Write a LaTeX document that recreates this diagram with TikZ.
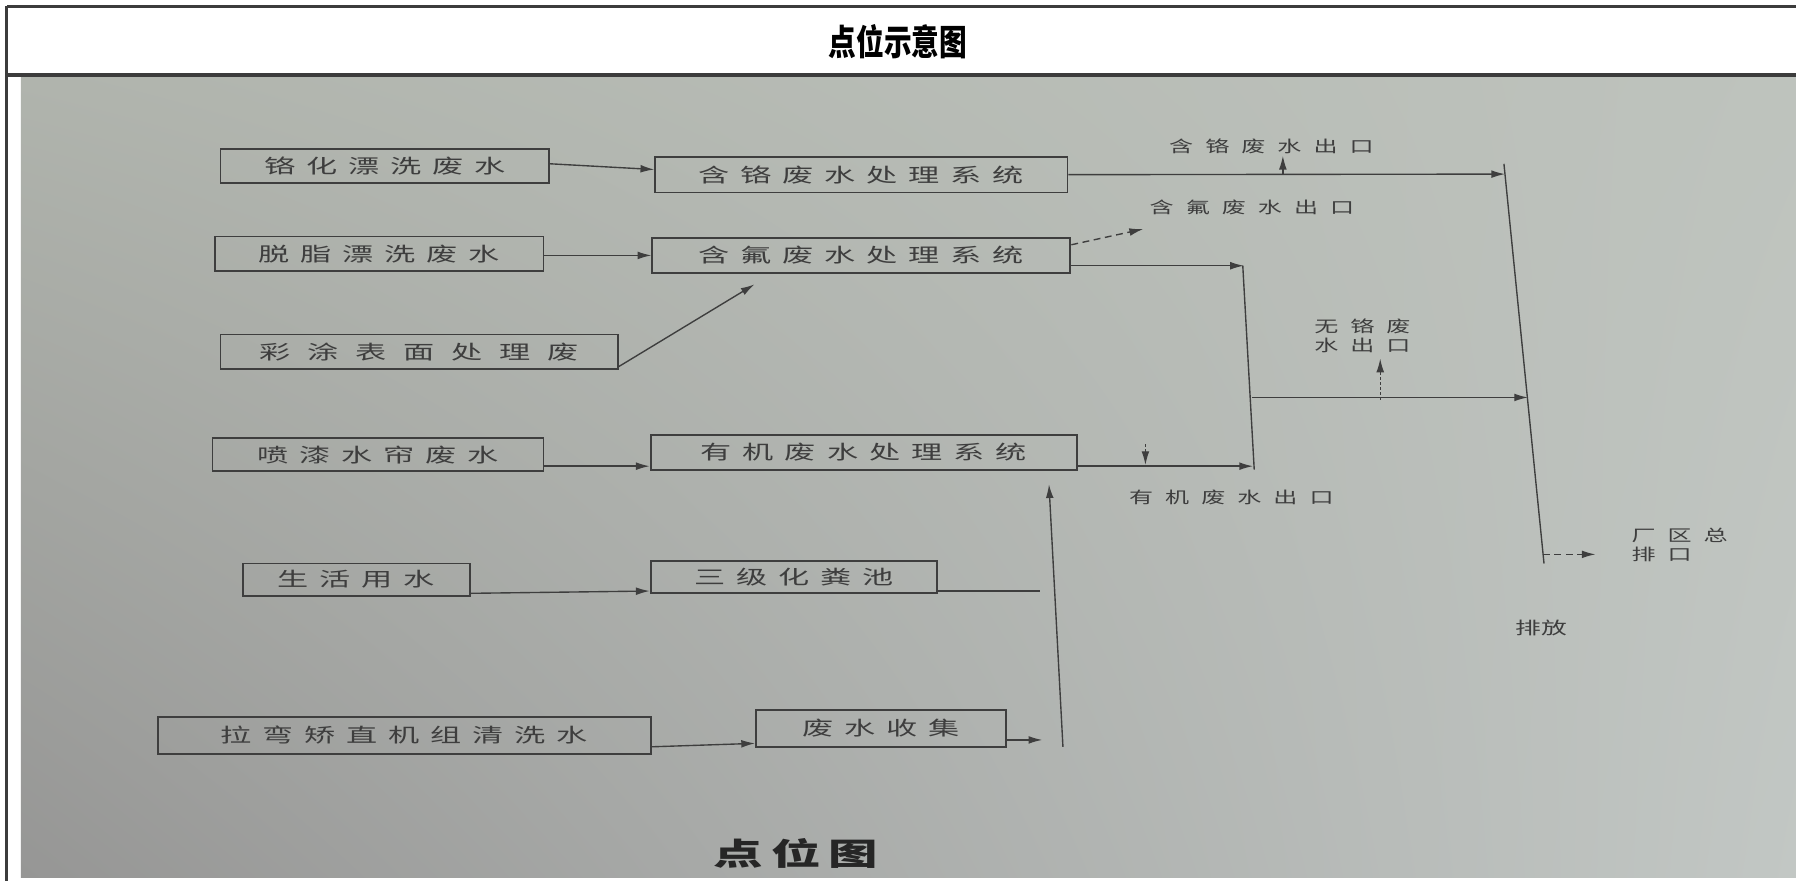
\documentclass[tikz,border=0pt]{standalone}
\usepackage{fontspec}
\usepackage{graphicx}
\usetikzlibrary{arrows.meta,calc,shadings}
\newfontfamily\cjkbox[LetterSpace=35]{Noto Sans CJK SC}
\newfontfamily\cjkwide[LetterSpace=54]{Noto Sans CJK SC}
\newfontfamily\cjklbl[LetterSpace=50]{Noto Sans CJK SC}
\newfontfamily\cjkplain{Noto Sans CJK SC}
\newfontfamily\cjkbig[LetterSpace=16]{Noto Sans CJK SC}
\newcommand\bxt[1]{\scalebox{1.6}[1]{\cjkbox\fontsize{8.5}{10}\selectfont #1}}
\newcommand\bxw[1]{\scalebox{1.6}[1]{\cjkwide\fontsize{8.5}{10}\selectfont #1}}
\newcommand\lbt[1]{\scalebox{1.5}[1]{\cjklbl\fontsize{7}{8}\selectfont #1}}
\definecolor{ink}{RGB}{62,62,62}
\definecolor{framec}{RGB}{60,60,60}
\definecolor{pUL}{RGB}{176,180,173}
\definecolor{pUR}{RGB}{190,195,189}
\definecolor{pLL}{RGB}{150,150,149}
\definecolor{pLR}{RGB}{194,199,196}
\begin{document}
\begin{tikzpicture}[x=0.5pt,y=-0.5pt,
  boxn/.style={draw=ink,line width=0.8pt,inner sep=0pt,text=ink},
  lbl/.style={inner sep=0pt,text=ink,anchor=center},
  conn/.style={draw=ink,line width=0.6pt},
  arr/.style={conn,-{Latex[length=6pt,width=3.4pt]}},
  dasharr/.style={arr,dash pattern=on 3pt off 2pt},
  dotarr/.style={arr,dash pattern=on 1pt off 1.2pt}]
\useasboundingbox (0,0) rectangle (1568,769.2);
\fill[white] (0,0) rectangle (1568,769.2);
\shade[upper left=pUL,upper right=pUR,lower left=pLL,lower right=pLR] (18.3,67) rectangle (1568,766);
% frame
\draw[framec,line width=1.3pt] (6,5.5) -- (1568,5.5);
\draw[framec,line width=1.4pt] (6,65.5) -- (1568,65.5);
\draw[framec,line width=1.3pt] (6,5.5) -- (6,769.2);
\node[inner sep=0pt] (title) at (784,36) {\scalebox{0.78}[1]{\cjkplain\bfseries\fontsize{15.5}{18}\selectfont 点位示意图}};
% boxes
\node[boxn,minimum width=143.5pt,minimum height=15pt] (b1) at (336,145) {\bxt{铬化漂洗废水}};
\node[boxn,minimum width=180pt,minimum height=15.5pt] (b2) at (752,152.5) {\bxt{含铬废水处理系统}};
\node[boxn,minimum width=143.5pt,minimum height=15pt] (b3) at (331,221.5) {\bxt{脱脂漂洗废水}};
\node[boxn,minimum width=182.5pt,minimum height=15.5pt] (b4) at (752,223) {\bxt{含氟废水处理系统}};
\node[boxn,minimum width=173.5pt,minimum height=15pt] (b5) at (366,307) {\bxw{彩涂表面处理废}};
\node[boxn,minimum width=144.5pt,minimum height=14.5pt] (b6) at (330,397) {\bxt{喷漆水帘废水}};
\node[boxn,minimum width=186pt,minimum height=15pt] (b7) at (754,395) {\bxt{有机废水处理系统}};
\node[boxn,minimum width=99pt,minimum height=14pt] (b8) at (311,506) {\bxt{生活用水}};
\node[boxn,minimum width=125pt,minimum height=14pt] (b9) at (693,504) {\bxt{三级化粪池}};
\node[boxn,minimum width=215pt,minimum height=16pt] (b10) at (353,642) {\bxt{拉弯矫直机组清洗水}};
\node[boxn,minimum width=109pt,minimum height=16pt] (b11) at (769,636) {\bxt{废水收集}};
% labels
\node[lbl] (l1) at (1110,128) {\lbt{含铬废水出口}};
\node[lbl] (l2) at (1093,181) {\lbt{含氟废水出口}};
\node[lbl,anchor=west] (l3a) at (1147,285) {\lbt{无铬废}};
\node[lbl,anchor=west] (l3b) at (1147,302) {\lbt{水出口}};
\node[lbl] (l4) at (1075,434) {\lbt{有机废水出口}};
\node[lbl,anchor=west] (l5a) at (1424,467) {\lbt{厂区总}};
\node[lbl,anchor=west] (l5b) at (1424,484) {\lbt{排口}};
\node[lbl] (l6) at (1346,548) {\scalebox{1.5}[1]{\cjkplain\fontsize{7.5}{9}\selectfont 排放}};
\node[inner sep=0pt,text=black!85] (l7) at (695,745) {\scalebox{1.6}[1]{\cjkbig\bfseries\fontsize{13.5}{16}\selectfont 点位图}};
% bus coordinates
\coordinate (rtop) at (1313,143);
\coordinate (rbot) at (1348,492);
\coordinate (rb1) at (1314,152);
\coordinate (rb2) at (1334,347);
\coordinate (mtop) at (1085,232);
\coordinate (mbot) at (1095,410);
\coordinate (mb1) at (1086,232);
\coordinate (mb2) at (1094,407);
\coordinate (mmid) at (1093,347);
\coordinate (o1s) at (1120,152);
\coordinate (o1e) at (1120,136);
\coordinate (o2e) at (998,200);
\coordinate (o3s) at (1205,349);
\coordinate (o3e) at (1205,313);
\coordinate (o4s) at (1000,388);
\coordinate (o4e) at (1000,406);
\coordinate (o5s) at (1347,484);
\coordinate (o5e) at (1393,484);
\coordinate (s9) at (908,516);
\coordinate (s11) at (910,646);
\coordinate (vbot) at (928,652);
% buses
\draw[conn] (rtop) -- (rbot);
\draw[conn] (mtop) -- (mbot);
% connectors
\draw[arr] ($(b1.east)+(0,-2)$) -- ($(b2.west)+(0,-4.5)$);
\draw[arr] (b2.east) -- (rb1);
\draw[dasharr] (o1s) -- (o1e);
\draw[arr] ($(b3.east)+(0,1.5)$) -- (b4.west);
\draw[dasharr] ($(b4.north east)+(0,7)$) -- (o2e);
\draw[arr] ($(b4.east)+(0,9)$) -- (mb1);
\draw[arr] ($(b5.east)+(0,13)$) -- ($(b4.south west)+(90,9)$);
\draw[arr] ($(b6.east)+(0,10)$) -- ($(b7.west)+(0,12)$);
\draw[arr] ($(b7.east)+(0,12)$) -- (mb2);
\draw[dotarr] (o4s) -- (o4e);
\draw[arr] (mmid) -- (rb2);
\draw[dotarr] (o3s) -- (o3e);
\draw[dasharr] (o5s) -- (o5e);
\draw[arr] ($(b8.east)+(0,12)$) -- ($(b9.west)+(0,12)$);
\draw[conn] ($(b9.east)+(0,12)$) -- (s9);
\draw[arr] ($(b10.east)+(0,10)$) -- ($(b11.west)+(0,13)$);
\draw[arr] ($(b11.east)+(0,10)$) -- (s11);
\draw[arr] (vbot) -- ($(b7.south east)+(-25,12)$);
\end{tikzpicture}
\end{document}
